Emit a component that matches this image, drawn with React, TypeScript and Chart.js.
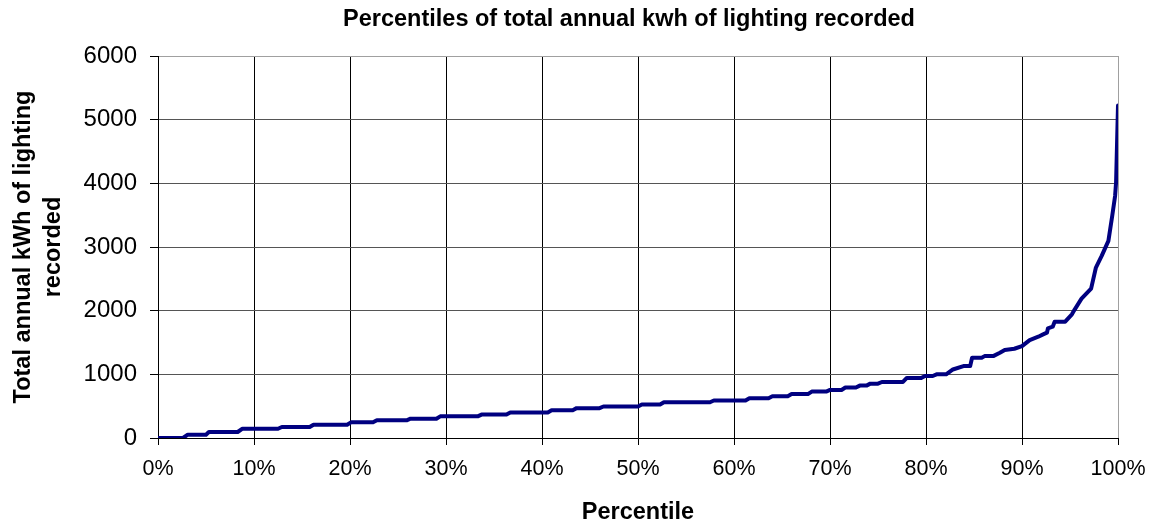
import React, { useEffect, useRef } from "react";
import { Chart, registerables } from "chart.js";

Chart.register(...registerables);

const chartTitle = "Percentiles of total annual kwh of lighting recorded";
const xAxisTitle = "Percentile";
const yAxisTitle = ["Total annual kWh of lighting", "recorded"];

// percentile (%) of each point, and the recorded annual kWh at that percentile
const percentiles = [
  0, 2.6, 3.1, 5.0, 5.3, 8.3, 8.8, 12.5, 12.9, 15.8, 16.2, 19.7, 20.1, 22.4, 22.8,
  25.9, 26.3, 29.0, 29.4, 33.3, 33.7, 36.3, 36.7, 40.6, 41.0, 43.2, 43.6, 46.0,
  46.4, 50.0, 50.4, 52.3, 52.7, 57.5, 57.9, 61.2, 61.6, 63.6, 64.0, 65.6, 66.0,
  67.7, 68.1, 69.6, 70.0, 71.2, 71.6, 72.7, 73.1, 73.8, 74.2, 75.0, 75.4, 77.6,
  78.0, 79.5, 79.9, 80.7, 81.1, 82.1, 82.8, 83.9, 84.6, 84.8, 85.8, 86.1, 87.0,
  87.7, 88.2, 89.2, 90.0, 90.8, 91.7, 92.2, 92.6, 92.7, 93.2, 93.4, 94.5, 95.2,
  95.5, 96.2, 97.2, 97.7, 98.3, 99.0, 99.4, 99.7, 99.8, 100,
];
const kwh = [
  0, 0, 52, 52, 94, 94, 146, 146, 173, 173, 209, 209, 246, 246, 278,
  278, 303, 303, 340, 340, 368, 368, 401, 401, 437, 437, 469, 469,
  495, 495, 526, 526, 562, 562, 589, 589, 625, 625, 656, 656, 690,
  690, 729, 729, 755, 755, 792, 792, 823, 823, 854, 854, 880, 880,
  943, 943, 974, 974, 1000, 1000, 1076, 1129, 1129, 1260, 1260, 1286, 1286,
  1339, 1381, 1402, 1444, 1538, 1591, 1627, 1654, 1722, 1748, 1827, 1827, 1942,
  2021, 2189, 2346, 2677, 2861, 3097, 3491, 3806, 4016, 5223,
];

const xTicks = [0, 10, 20, 30, 40, 50, 60, 70, 80, 90, 100];
const yTicks = [0, 1000, 2000, 3000, 4000, 5000, 6000];

const FONT = "'Liberation Sans', Arial, Helvetica, sans-serif";

const titlePlugin = {
  id: "customTitle",
  afterDraw(chart: any) {
    const ctx = chart.ctx;
    ctx.save();
    ctx.font = `bold 23.5px ${FONT}`;
    ctx.fillStyle = "#000";
    ctx.textAlign = "center";
    ctx.textBaseline = "middle";
    ctx.fillText(chartTitle, 629, 20);
    ctx.restore();
  },
};

export default function App() {
  const canvasRef = useRef<HTMLCanvasElement | null>(null);

  useEffect(() => {
    if (!canvasRef.current) return;
    const chart = new Chart(canvasRef.current, {
      type: "line",
      data: {
        datasets: [
          {
            data: percentiles.map((p, i) => ({ x: p, y: kwh[i] })),
            borderColor: "#000080",
            backgroundColor: "#000080",
            borderWidth: 4,
            pointRadius: 0,
            tension: 0,
            fill: false,
            borderJoinStyle: "round",
            borderCapStyle: "round",
          },
        ],
      },
      options: {
        animation: false,
        responsive: true,
        maintainAspectRatio: false,
        layout: { padding: { left: 0, right: 35, top: 56, bottom: 0 } },
        plugins: {
          legend: { display: false },
          title: { display: false },
          tooltip: { enabled: false },
        },
        scales: {
          x: {
            type: "linear",
            min: 0,
            max: 100,
            afterBuildTicks: (scale: any) => {
              scale.ticks = xTicks.map((v) => ({ value: v }));
            },
            afterFit: (scale: any) => {
              scale.height = 87;
              scale.paddingLeft = 0;
              scale.paddingRight = 0;
            },
            ticks: {
              color: "#000",
              font: { family: FONT, size: 21.5 },
              padding: 11,
              maxRotation: 0,
              autoSkip: false,
              callback: (v: any) => `${v}%`,
            },
            grid: {
              color: (ctx: any) =>
                ctx.tick && ctx.tick.value === 100 ? "#a0a0a0" : "#000",
              tickColor: "#000",
              tickLength: 7,
              lineWidth: 1,
            },
            border: { color: "#000", width: 1 },
            title: {
              display: true,
              text: xAxisTitle,
              color: "#000",
              font: { family: FONT, size: 23.5, weight: "bold", lineHeight: 1.1 },
              padding: { top: 0, bottom: 0 },
            },
          },
          y: {
            type: "linear",
            min: 0,
            max: 6000,
            afterBuildTicks: (scale: any) => {
              scale.ticks = yTicks.map((v) => ({ value: v }));
            },
            afterFit: (scale: any) => {
              scale.width = 158;
              scale.paddingTop = 0;
              scale.paddingBottom = 0;
            },
            ticks: {
              color: "#000",
              font: { family: FONT, size: 24 },
              padding: 13,
              callback: (v: any) => `${v}`,
            },
            grid: {
              color: (ctx: any) =>
                ctx.tick && ctx.tick.value === 6000 ? "#a0a0a0" : "#555",
              tickColor: "#000",
              tickLength: 8,
              lineWidth: 1,
            },
            border: { color: "#000", width: 1 },
            title: {
              display: true,
              text: yAxisTitle,
              color: "#000",
              font: { family: FONT, size: 23.5, weight: "bold", lineHeight: 1.28 },
              padding: { top: 8, bottom: 0 },
            },
          },
        },
      },
      plugins: [titlePlugin],
    } as any);
    return () => chart.destroy();
  }, []);

  return (
    <div
      style={{
        position: "absolute",
        left: 0,
        top: 0,
        width: 1153,
        height: 525,
        background: "#fff",
      }}
    >
      <canvas ref={canvasRef} />
    </div>
  );
}
